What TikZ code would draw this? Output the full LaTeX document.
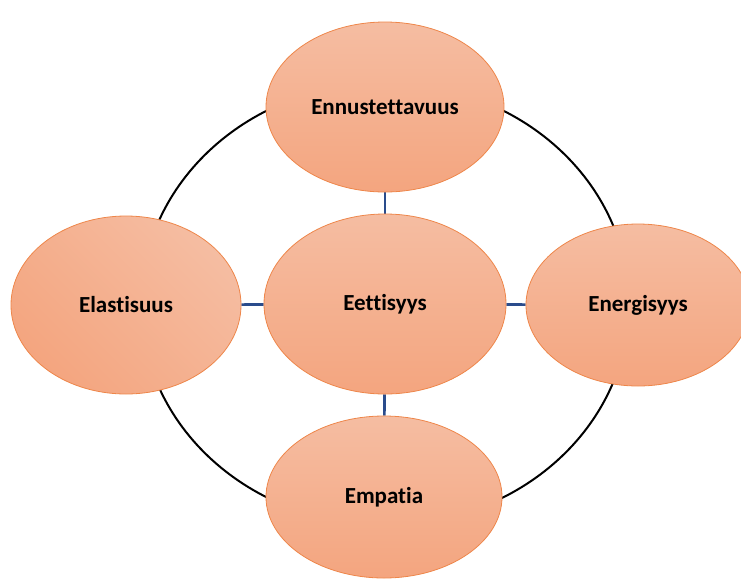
\documentclass[tikz,border=0pt]{standalone}
\usepackage{fontspec}
\setmainfont{Carlito}[Ligatures={NoCommon}]
\usetikzlibrary{shapes.geometric,backgrounds}
\definecolor{lightsal}{RGB}{245,189,162}
\definecolor{darksal}{RGB}{244,165,127}
\definecolor{edgeor}{RGB}{238,134,74}
\definecolor{linkblue}{RGB}{42,76,140}
\tikzset{
  bubble/.style={ellipse, draw=edgeor, line width=0.8pt, inner sep=0pt,
    top color=lightsal, bottom color=darksal, font=\bfseries\fontsize{23}{27}\selectfont, text=black},
  link/.style={draw=linkblue, line width=2.6pt},
  ringline/.style={draw=black, line width=2pt}
}
\begin{document}
\begin{tikzpicture}[x=1pt,y=-1pt]
\useasboundingbox (0,0) rectangle (741,579);
\begin{scope}
\clip (0,0) rectangle (741,579);
\node[ringline, ellipse, minimum width=488pt, minimum height=442pt, inner sep=0pt] (ring) at (385,304) {};
\node[bubble, minimum width=238pt, minimum height=170pt] (top) at (385,107) {Ennustettavuus};
\node[bubble, minimum width=242pt, minimum height=180pt] (mid) at (385,304) {Eettisyys};
\node[bubble, minimum width=230pt, minimum height=178pt, shading angle=-45] (left) at (126,305) {Elastisuus};
\node[bubble, minimum width=224pt, minimum height=162pt] (right) at (638,305) {Energisyys};
\node[bubble, minimum width=236pt, minimum height=162pt] (bot) at (384,497) {Empatia};
\begin{scope}[on background layer]
\draw[link] (mid) -- (top);
\draw[link] (mid) -- (bot);
\draw[link] (mid) -- (left);
\draw[link] (mid) -- (right);
\end{scope}
\end{scope}
\end{tikzpicture}
\end{document}
